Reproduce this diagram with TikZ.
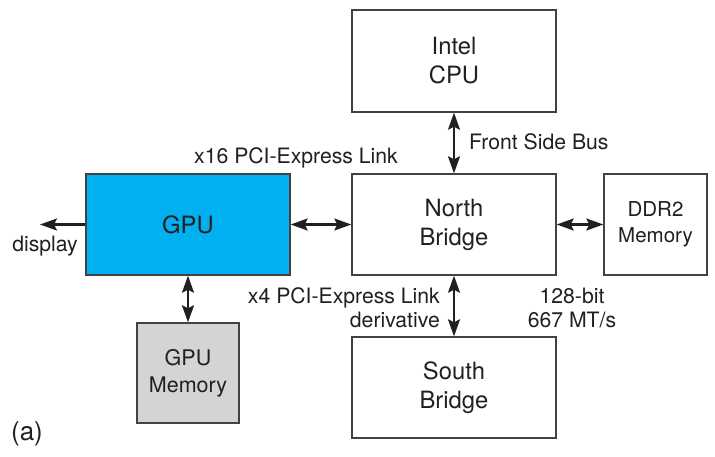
\documentclass[tikz,border=0pt]{standalone}
\usepackage{fontspec}
\setmainfont{TeX Gyre Heros}
\usetikzlibrary{arrows.meta}
\definecolor{ink}{HTML}{231F20}
\definecolor{gpucyan}{HTML}{00B0F0}
\definecolor{memgray}{HTML}{D4D4D4}
\begin{document}
\begin{tikzpicture}[x=1pt,y=-1pt,
  box/.style={draw=ink!85, line width=1.4pt, minimum width=#1, inner sep=0pt, align=center, text=ink,
    font=\fontsize{23.8}{29}\selectfont},
  lbl/.style={text=ink, font=\fontsize{21.2}{24}\selectfont, inner sep=0pt},
  link/.style={draw=ink, line width=2.1pt, {Stealth[length=17pt,width=12pt,inset=3pt]}-{Stealth[length=17pt,width=12pt,inset=3pt]}},
  outarrow/.style={draw=ink, line width=2.1pt, -{Stealth[length=17pt,width=12pt,inset=3pt]}}
]
\fill[white] (0,0) rectangle (715,456);
\useasboundingbox (0,0) rectangle (715,456);

\node[box=204pt, minimum height=102pt] (cpu) at (454,61) {Intel\\CPU};
\node[box=204pt, minimum height=101pt] (nb) at (454,224.5) {North\\Bridge};
\node[box=204pt, minimum height=101pt] (sb) at (454,387.5) {South\\Bridge};
\node[box=204pt, minimum height=101pt, fill=gpucyan] (gpu) at (188,224.5) {GPU};
\node[box=103pt, minimum height=101pt, font=\fontsize{20.5}{26}\selectfont] (ddr) at (655.5,224.5) {DDR2\\Memory};
\node[box=102pt, minimum height=100pt, fill=memgray, font=\fontsize{21.5}{27}\selectfont] (gmem) at (188,373) {GPU\\Memory};

\coordinate (disp) at (40,224.5);

\draw[link] (cpu.south) -- (nb.north);
\draw[link] (gpu.east) -- (nb.west);
\draw[link] (nb.east) -- (ddr.west);
\draw[link] (nb.south) -- (sb.north);
\draw[link] (gpu.south) -- (gmem.north);
\draw[outarrow] (gpu.west) -- (disp);

\node[lbl, anchor=west] (fsb) at (469,142) {Front Side Bus};
\node[lbl] (x16) at (296,158) {x16 PCI-Express Link};
\node[lbl] (dsp) at (45,246) {display};
\node[lbl, anchor=east, align=right] (x4) at (440,308) {x4 PCI-Express Link\\derivative};
\node[lbl, align=center] (bw) at (572,308) {128-bit\\667 MT/s};
\node[lbl, font=\fontsize{26}{30}\selectfont] (a) at (27,434) {(a)};
\end{tikzpicture}
\end{document}
